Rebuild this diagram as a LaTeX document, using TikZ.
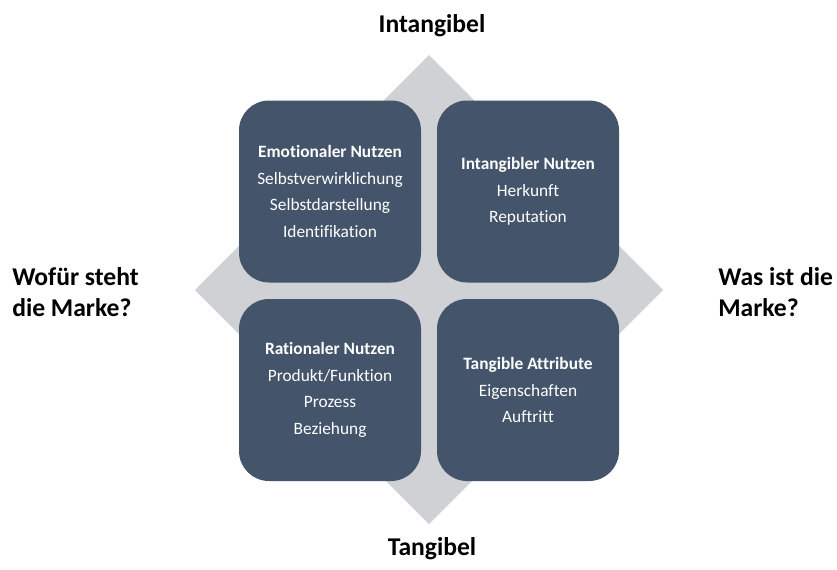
\documentclass[tikz,border=0pt]{standalone}
\usepackage{fontspec}
\setmainfont{Carlito}[RawFeature=-liga]
\definecolor{boxblue}{RGB}{68,84,106}
\definecolor{diagray}{RGB}{207,209,213}
\begin{document}
\begin{tikzpicture}[x=0.75pt,y=-0.75pt,
	field/.style={fill=boxblue, rounded corners=22.5pt, minimum width=136.5pt, minimum height=136.5pt, inner sep=0pt, align=center, text=white, font=\fontsize{13}{20}\selectfont},
	axislabel/.style={font=\fontsize{19.2}{23}\selectfont\bfseries, inner sep=0pt}]
	\useasboundingbox (0,0) rectangle (837,569);
	\fill[diagray] (429,55) -- (663,290) -- (429,524) -- (195,290) -- cycle;

	\node[field] (emo) at (330,191.5) {\textbf{Emotionaler Nutzen}\\Selbstverwirklichung\\Selbstdarstellung\\Identifikation};
	\node[field] (intnutz) at (528,191.5) {\textbf{Intangibler Nutzen}\\Herkunft\\Reputation};
	\node[field] (rat) at (330,390) {\textbf{Rationaler Nutzen}\\Produkt/Funktion\\Prozess\\Beziehung};
	\node[field] (attr) at (528,390) {\textbf{Tangible Attribute}\\Eigenschaften\\Auftritt};

	\node[axislabel, anchor=base] (intang) at (432,32) {Intangibel};
	\node[axislabel, anchor=base] (tang) at (432,555) {Tangibel};
	\node[axislabel, anchor=west, align=left] (wofuer) at (12,292) {Wofür steht\\die Marke?};
	\node[axislabel, anchor=west, align=left] (wasist) at (718,292) {Was ist die\\Marke?};
\end{tikzpicture}
\end{document}
